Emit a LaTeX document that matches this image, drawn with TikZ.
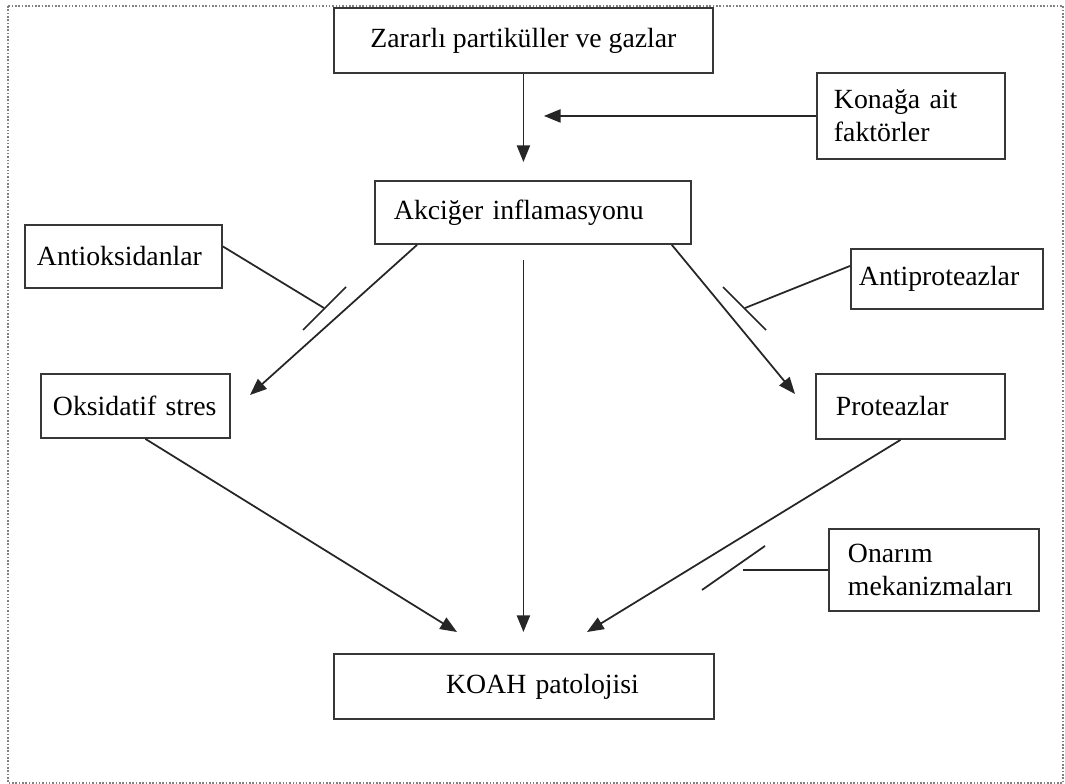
\documentclass[tikz,border=0pt]{standalone}
\usepackage{fontspec}
\setmainfont{Liberation Serif}
\usepackage{tikz}
\usetikzlibrary{arrows.meta, calc}
\definecolor{kenar}{RGB}{55,55,55}

\begin{document}
\begin{tikzpicture}[
  x=0.02cm, y=-0.02cm,
  kutu/.style={rectangle, draw=kenar, line width=1.1pt, anchor=north west, inner ysep=0pt, align=left, font=\fontsize{15.8}{18.8}\selectfont},
  ok/.style={draw=black!85, -{Triangle[length=9.5pt, width=7.5pt]}, line width=1pt},
  engel/.style={draw=black!85, line width=1pt}
]
  \useasboundingbox (0,0) rectangle (1065,784);
  \draw[gray, densely dotted, line width=0.9pt] (8,6) rectangle (1063,783);

  % kutular
  \node[kutu, align=center, minimum width=7.58cm, minimum height=1.3cm] (zarar) at (333,7) {Zararlı partiküller ve gazlar};
  \node[kutu, text width=3.08cm, inner xsep=0.34cm, minimum height=1.72cm] (konak) at (816,72) {Konağa ait\\faktörler};
  \node[kutu, text width=5.56cm, inner xsep=0.38cm, minimum height=1.26cm] (akciger) at (374,180) {Akciğer inflamasyonu};
  \node[kutu, text width=3.46cm, inner xsep=0.24cm, minimum height=1.26cm] (antiok) at (24,224) {Antioksidanlar};
  \node[kutu, text width=3.52cm, inner xsep=0.16cm, minimum height=1.2cm] (antipro) at (850,248) {Antiproteazlar};
  \node[kutu, text width=3.3cm, inner xsep=0.24cm, minimum height=1.28cm] (oksid) at (40,373) {Oksidatif stres};
  \node[kutu, text width=2.98cm, inner xsep=0.4cm, minimum height=1.3cm] (protea) at (815,373) {Proteazlar};
  \node[kutu, text width=3.44cm, inner xsep=0.38cm, minimum height=1.64cm] (onarim) at (828,528) {Onarım\\mekanizmaları};
  \node[kutu, align=right, text width=4.6cm, inner xsep=1.5cm, minimum height=1.3cm] (koah) at (333,653) {KOAH patolojisi};

  % okların uçları
  \coordinate (oksucu) at (250,395);
  \coordinate (proucu) at (795,394);
  \coordinate (koahsol) at (457,632);
  \coordinate (koahsag) at (587,632);

  \draw[ok, shorten >=0.36cm] (zarar.south) -- (zarar.south |- akciger.north);
  \draw[ok, shorten >=0.41cm] (konak.west) -- (konak.west -| zarar.south);
  \draw[ok] ($(akciger.south west)+(43,0)$) -- (oksucu);
  \draw[ok, shorten <=0.3cm, shorten >=0.42cm] (zarar.south |- akciger.south) -- (zarar.south |- koah.north);
  \draw[ok] ($(akciger.south east)+(-20,0)$) -- (proucu);
  \draw[ok] ($(oksid.south)+(10,0)$) -- (koahsol);
  \draw[ok] ($(protea.south)+(-10,0)$) -- (koahsag);

  % engelleyiciler
  \coordinate (antiokuc) at (324,308);
  \draw[engel] ($(antiok.east)+(0,-10)$) -- (antiokuc);
  \draw[engel] ($(antiokuc)+(22,-21)$) -- ($(antiokuc)+(-21,22)$);
  \coordinate (antiprouc) at (745,308);
  \draw[engel] ($(antipro.west)+(0,-13)$) -- (antiprouc);
  \draw[engel] ($(antiprouc)+(-22,-21)$) -- ($(antiprouc)+(21,22)$);
  \coordinate (onarimuc) at ($(onarim.west)+(-85,0)$);
  \draw[engel] (onarim.west) -- (onarimuc);
  \draw[engel] ($(onarimuc)+(22,-24)$) -- ($(onarimuc)+(-41,20)$);
\end{tikzpicture}
\end{document}
